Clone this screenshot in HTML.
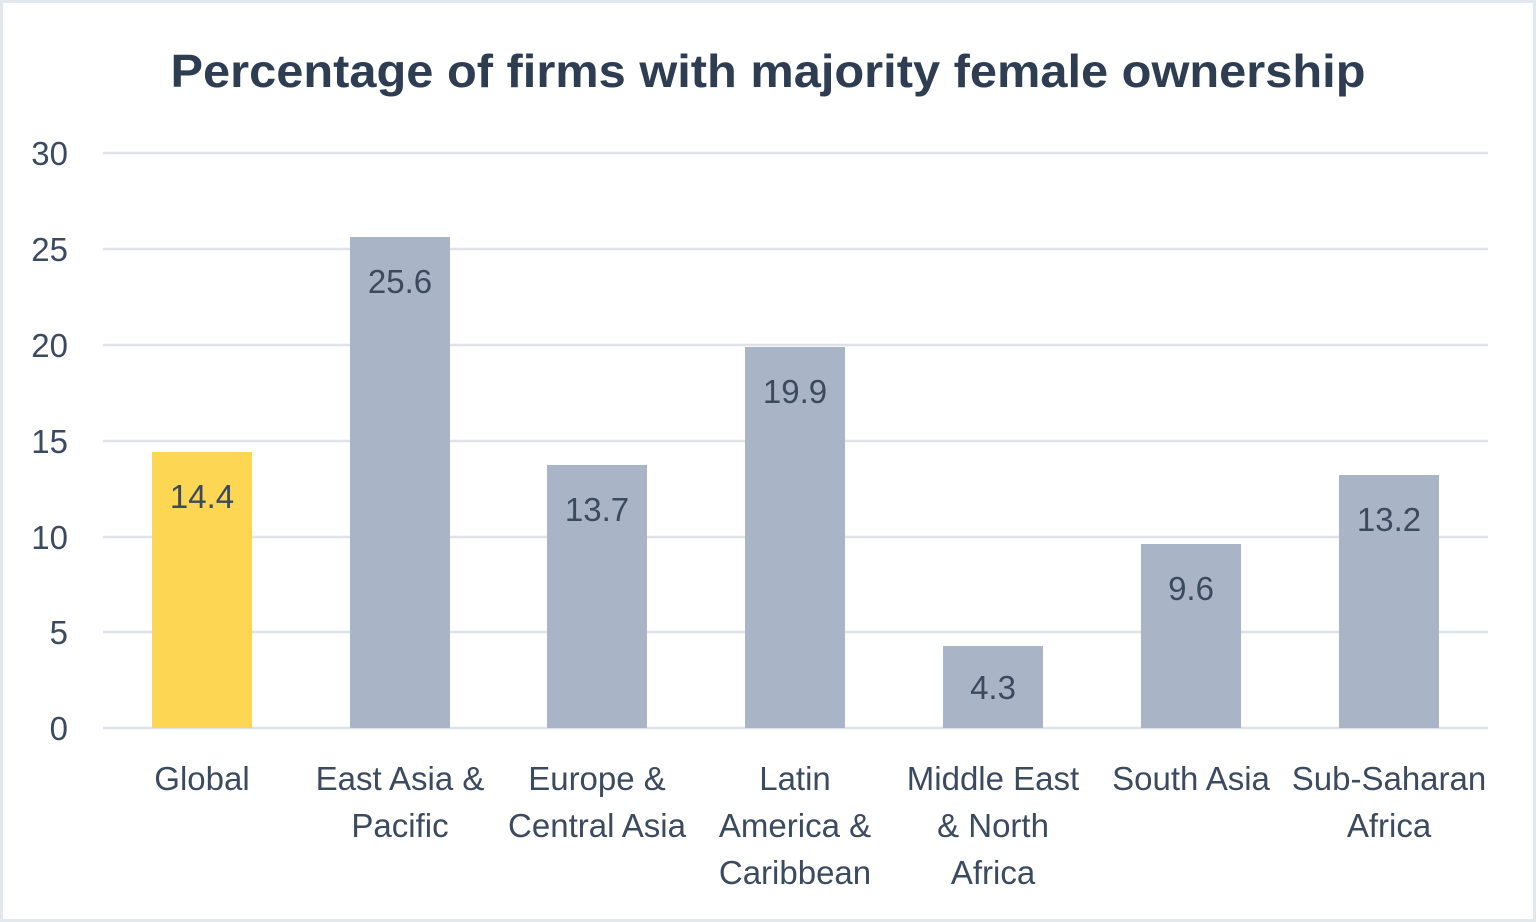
<!DOCTYPE html>
<html><head><style>html,body{margin:0;padding:0;background:#fff}svg{display:block}</style></head><body>
<svg width="1536" height="922" xmlns="http://www.w3.org/2000/svg" font-family="Liberation Sans, sans-serif">
<rect x="1.5" y="1.5" width="1533" height="919" fill="#fff" stroke="#e3e7ee" stroke-width="3"/>
<text x="768" y="87" text-anchor="middle" font-size="46" font-weight="bold" fill="#2f3d52" textLength="1195" lengthAdjust="spacingAndGlyphs">Percentage of firms with majority female ownership</text>
<g stroke="#dfe3e9" stroke-width="2.5">
<line x1="103" y1="153" x2="1488" y2="153"/><line x1="103" y1="249" x2="1488" y2="249"/><line x1="103" y1="345" x2="1488" y2="345"/><line x1="103" y1="441" x2="1488" y2="441"/><line x1="103" y1="537" x2="1488" y2="537"/><line x1="103" y1="632" x2="1488" y2="632"/><line x1="103" y1="728" x2="1488" y2="728"/>
</g>
<g font-size="33" fill="#3b4a5f" text-anchor="end">
<text x="68" y="165">30</text><text x="68" y="261">25</text><text x="68" y="357">20</text><text x="68" y="453">15</text><text x="68" y="549">10</text><text x="68" y="644">5</text><text x="68" y="740">0</text>
</g>
<rect x="152" y="452" width="100" height="276" fill="#fdd654"/>
<g fill="#a9b5c6">
<rect x="350" y="237" width="100" height="491"/>
<rect x="547" y="465" width="100" height="263"/>
<rect x="745" y="347" width="100" height="381"/>
<rect x="943" y="646" width="100" height="82"/>
<rect x="1141" y="544" width="100" height="184"/>
<rect x="1339" y="475" width="100" height="253"/>
</g>
<g font-size="33" fill="#3b4a5f" text-anchor="middle">
<text x="202" y="508">14.4</text><text x="400" y="293">25.6</text><text x="597" y="521">13.7</text><text x="795" y="403">19.9</text><text x="993" y="699">4.3</text><text x="1191" y="600">9.6</text><text x="1389" y="531">13.2</text>
<text x="202" y="790">Global</text>
<text x="400" y="790">East Asia &amp;</text><text x="400" y="837">Pacific</text>
<text x="597" y="790">Europe &amp;</text><text x="597" y="837">Central Asia</text>
<text x="795" y="790">Latin</text><text x="795" y="837">America &amp;</text><text x="795" y="884">Caribbean</text>
<text x="993" y="790">Middle East</text><text x="993" y="837">&amp; North</text><text x="993" y="884">Africa</text>
<text x="1191" y="790">South Asia</text>
<text x="1389" y="790">Sub-Saharan</text><text x="1389" y="837">Africa</text>
</g>
</svg>
</body></html>
